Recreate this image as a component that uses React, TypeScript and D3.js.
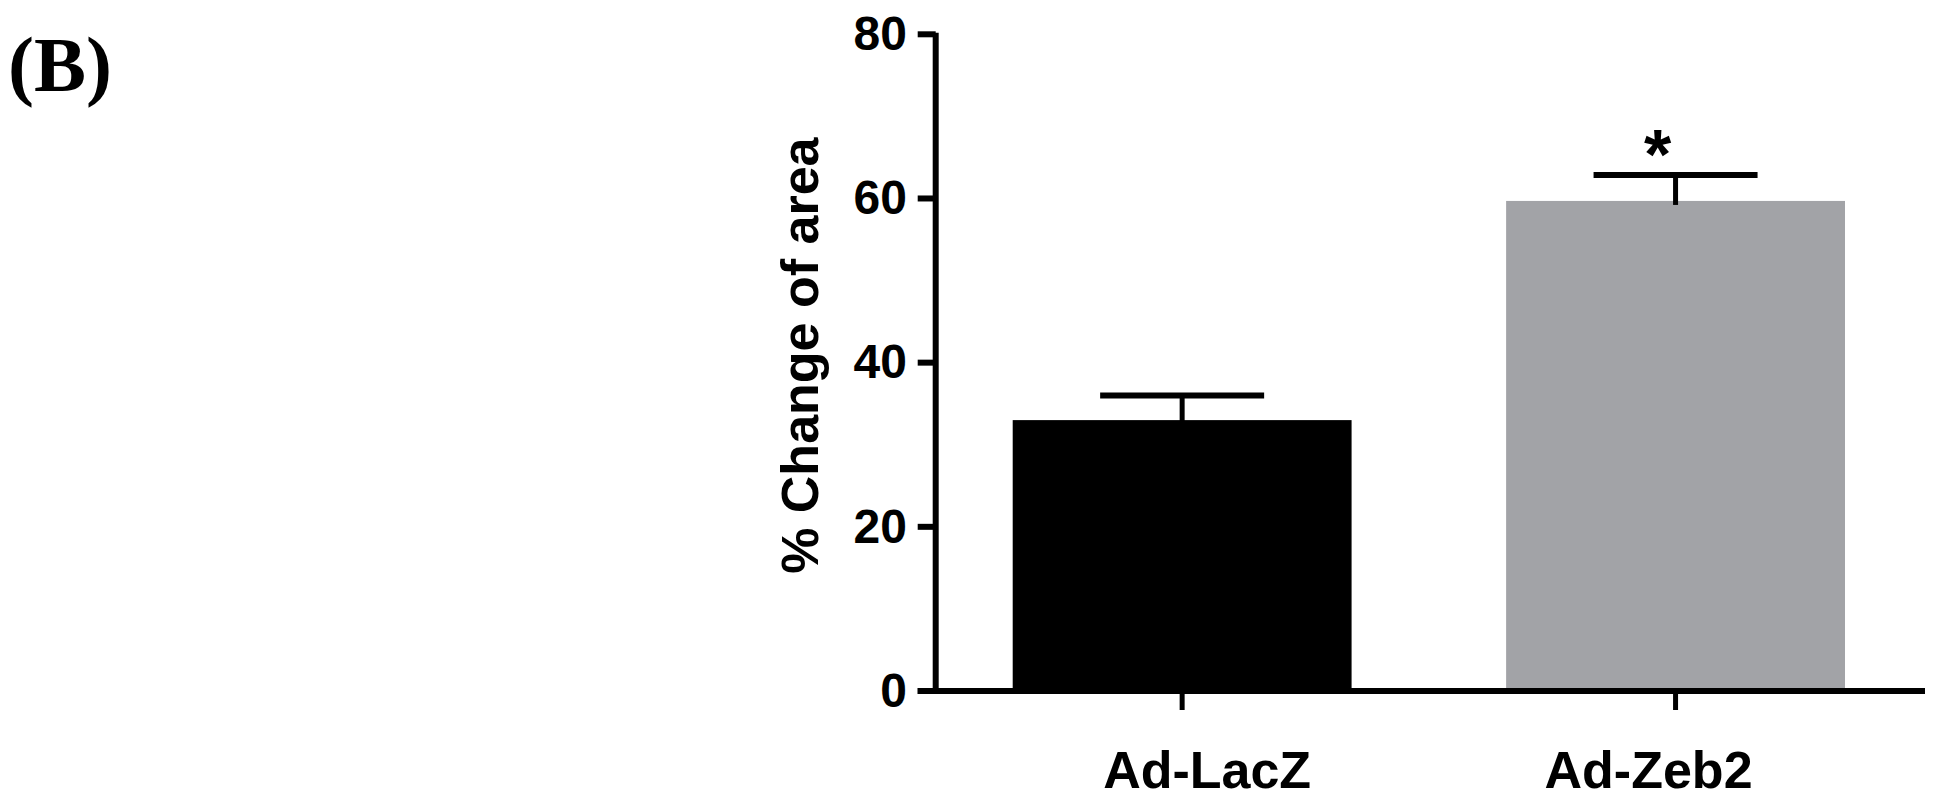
import React from 'react';
import * as d3 from 'd3';

const groups = ['Ad-LacZ', 'Ad-Zeb2'];
const means = [33.0, 59.7];
const sems = [3.0, 3.15];
const barColors = ['#000000', '#a2a3a7'];
const yTicks = [0, 20, 40, 60, 80];
const significance = ['', '*'];

export default function App() {
  const width = 1945;
  const height = 800;
  const axisX = 935.7;
  const axisY = 691;
  const font = 'Arial, "Liberation Sans", Helvetica, sans-serif';

  const y = d3.scaleLinear().domain([0, 80]).range([axisY, 34.3]);
  const x = d3.scaleBand<string>()
    .domain(groups)
    .range([1012.7, 1845])
    .paddingInner(0.3132)
    .paddingOuter(0);
  const bw = x.bandwidth();
  const capHalf = 82;
  // labels sit a little toward the middle in the original
  const labelShift = [25, -27];

  return (
    <svg width={width} height={height} style={{ position: 'absolute', left: 0, top: 0, background: '#fff' }}>
      <text x={8} y={91} fontFamily='"Liberation Serif", "Times New Roman", serif' fontWeight="bold" fontSize={78}>(B)</text>

      {groups.map((g, i) => (
        <rect key={g} x={x(g)} y={y(means[i])} width={bw} height={axisY - y(means[i])} fill={barColors[i]} />
      ))}

      {groups.map((g, i) => {
        const cx = (x(g) as number) + bw / 2;
        const top = y(means[i] + sems[i]);
        return (
          <g key={g + '-err'} stroke="#000">
            <line x1={cx} x2={cx} y1={y(means[i]) + 4} y2={top} strokeWidth={5} />
            <line x1={cx - capHalf} x2={cx + capHalf} y1={top} y2={top} strokeWidth={6} />
          </g>
        );
      })}

      {groups.map((g, i) => significance[i] ? (
        <text key={g + '-sig'} x={(x(g) as number) + bw / 2 - 18} y={179} textAnchor="middle"
          fontFamily={font} fontWeight="bold" fontSize={70}>{significance[i]}</text>
      ) : null)}

      {/* y axis */}
      <line x1={axisX} x2={axisX} y1={y(80) - 1.5} y2={axisY + 3} stroke="#000" strokeWidth={6} />
      {yTicks.map(t => (
        <g key={t}>
          <line x1={917.7} x2={axisX} y1={y(t)} y2={y(t)} stroke="#000" strokeWidth={6} />
          <text x={907} y={y(t)} dy="0.33em" textAnchor="end" fontFamily={font} fontWeight="bold" fontSize={48}>{t}</text>
        </g>
      ))}
      <text transform={`translate(818, ${355.7}) rotate(-90)`} textAnchor="middle"
        fontFamily={font} fontWeight="bold" fontSize={52}>% Change of area</text>

      {/* x axis */}
      <line x1={917.7} x2={1925} y1={axisY} y2={axisY} stroke="#000" strokeWidth={6} />
      {groups.map((g, i) => {
        const cx = (x(g) as number) + bw / 2;
        return (
          <g key={g + '-tick'}>
            <line x1={cx} x2={cx} y1={axisY} y2={axisY + 19} stroke="#000" strokeWidth={5} />
            <text x={cx + labelShift[i]} y={788} textAnchor="middle" fontFamily={font} fontWeight="bold" fontSize={52}>{g}</text>
          </g>
        );
      })}
    </svg>
  );
}
